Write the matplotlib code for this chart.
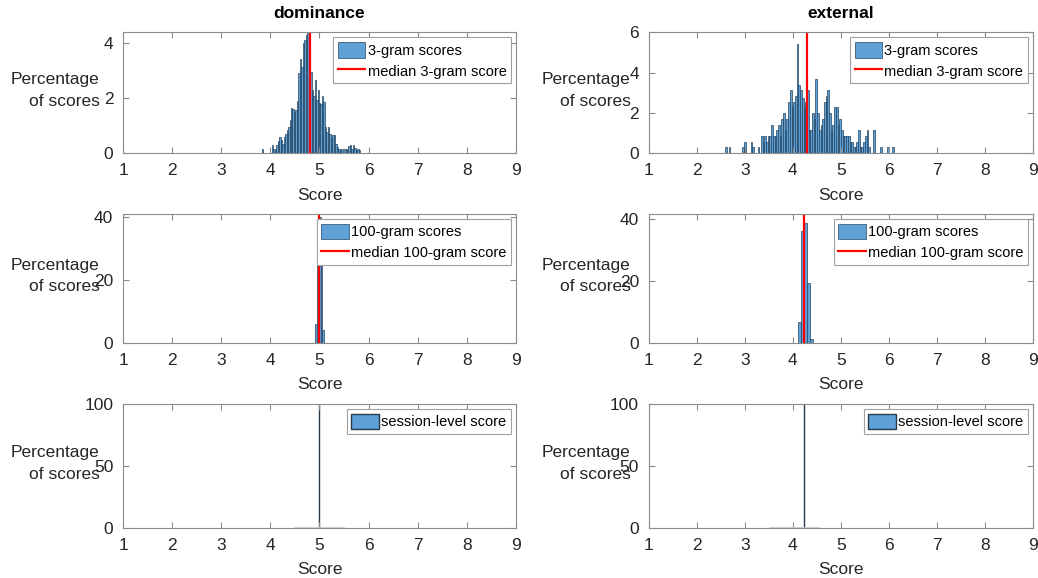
import numpy as np
import matplotlib
matplotlib.use('Agg')
import matplotlib.pyplot as plt

plt.rcParams['font.family'] = ['Liberation Sans', 'DejaVu Sans']
plt.rcParams['font.size'] = 12

# ---- data (percent of scores per bin) ----
# dominance, 3-gram
dom3_left = 3.82
dom3_width = 0.03
dom3_heights = [0.15, 0, 0, 0, 0, 0, 0, 0.3, 0.15, 0.1, 0.3, 0.44, 0.6, 0.47,
                0.35, 0.6, 0.7, 0.86, 0.96, 1.2, 1.66, 1.6, 1.5, 1.56, 1.9,
                2.92, 3.44, 3.14, 4.0, 4.13, 4.29, 4.4, 3.62, 2.96, 2.3, 2.1,
                2.65, 1.93, 2.3, 1.83, 1.78, 2.1, 1.87, 0.96, 0.78, 0.96, 0.7,
                0.57, 0.65, 0.65, 0.35, 0.23, 0.17, 0.1, 0.17, 0, 0.15, 0.15,
                0.1, 0.25, 0.3, 0.15, 0.3, 0.2, 0.1, 0.15, 0.1]
dom3_median = 4.80

# external, 3-gram
ext3_left = 2.591
ext3_width = 0.0355
ext3_heights = [0.3, 0, 0.3, 0, 0, 0, 0, 0, 0, 0, 0.3, 0.57, 0, 0, 0, 0.57,
                0.3, 0, 0, 0.3, 0,
                0.86, 0.57, 0.86, 0.57, 0.86, 0.86, 1.41, 0.86, 0.86, 1.14,
                1.41, 0.86, 1.7, 2.0, 1.14, 1.7, 2.55, 3.12, 2.28, 2.55, 2.85,
                5.41, 3.41, 3.12, 2.76, 2.28, 2.55, 3.12, 1.14, 1.14, 2.0, 1.7,
                3.69, 2.0, 1.14, 1.41, 1.7, 2.55, 2.85, 3.12, 2.0, 1.14, 1.41,
                2.28, 2.28, 1.41, 1.7, 1.14, 0.86, 0.86, 0.86, 0.86, 0.57,
                0.57, 0.3, 0.3, 0.57, 1.14, 0.3, 0.3, 0.57, 0.86, 1.14, 0.3,
                0, 0, 1.14, 0, 0, 0, 0.3, 0, 0, 0, 0.3, 0, 0, 0.3]
ext3_median = 4.29

# 100-gram
dom100_left = 4.915
dom100_width = 0.0355
dom100_heights = [6, 25, 40, 25, 4]
dom100_median = 4.99

ext100_left = 4.10
ext100_width = 0.0625
ext100_heights = [6.7, 36, 38.7, 19.5, 1.3]
ext100_median = 4.23

# session level
dom_session = 4.99
dom_session_range = [4.5, 5.5]
ext_session = 4.235
ext_session_range = [3.535, 4.55]

titles = ['dominance', 'external']
ngrams = [3, 100]

FACE = '#5fa0d6'
EDGE = '#24445f'
AXC = '#8c8c8c'
TXT = '#262626'

fig = plt.figure(figsize=(10.38, 5.78), dpi=100)

cols = [(0.1185, 0.3786), (0.625, 0.370)]
rows = [(0.735, 0.209), (0.4066, 0.223), (0.0865, 0.2145)]
ylims = [[4.4, 6], [41, 41.6], [100, 100]]
yticks = [[[0, 2, 4], [0, 2, 4, 6]], [[0, 20, 40], [0, 20, 40]],
          [[0, 50, 100], [0, 50, 100]]]
ylab_x = [-0.06, -0.047]

hist_data = [
    [(dom3_left, dom3_width, dom3_heights, dom3_median),
     (ext3_left, ext3_width, ext3_heights, ext3_median)],
    [(dom100_left, dom100_width, dom100_heights, dom100_median),
     (ext100_left, ext100_width, ext100_heights, ext100_median)],
]
sessions = [(dom_session, dom_session_range), (ext_session, ext_session_range)]

for r in range(3):
    for c in range(2):
        ax = fig.add_axes([cols[c][0], rows[r][0], cols[c][1], rows[r][1]])
        if r < 2:
            left, w, h, med = hist_data[r][c]
            centers = left + w * (np.arange(len(h)) + 0.5)
            bars = ax.bar(centers, h, width=w, color=FACE, edgecolor=EDGE,
                          linewidth=0.5, label='%d-gram scores' % ngrams[r])
            line = ax.axvline(med, color='#ff0000', lw=1.6,
                              label='median %d-gram score' % ngrams[r])
            handles = [bars, line]
        else:
            val, rng = sessions[c]
            ax.plot(rng, [0, 0], color='#c8c8c8', lw=1.2)
            bars = ax.bar([val], [100], width=0.004, color=FACE,
                          edgecolor='#2a3a48', linewidth=1.0,
                          label='session-level score')
            handles = [bars]
        ax.set_xlim(1, 9)
        ax.set_ylim(0, ylims[r][c])
        ax.set_xticks(range(1, 10))
        ax.set_yticks(yticks[r][c])
        ax.tick_params(direction='in', top=True, right=True, length=4,
                       color=AXC, labelcolor=TXT, labelsize=12.5, pad=7)
        for s in ax.spines.values():
            s.set_color(AXC)
            s.set_linewidth(0.8)
        ax.set_xlabel('Score', color=TXT, fontsize=12.5, labelpad=7)
        ax.set_ylabel('Percentage\nof scores', rotation=0, ha='right',
                      va='center', multialignment='right', color=TXT,
                      fontsize=12.5, linespacing=1.55)
        ax.yaxis.set_label_coords(ylab_x[c], 0.52)
        leg = ax.legend(handles=handles, loc='upper right', fontsize=10.5,
                        frameon=True, fancybox=False, edgecolor='#a0a0a0',
                        framealpha=1, handlelength=1.9, handleheight=1.3,
                        borderpad=0.3, labelspacing=0.35, handletextpad=0.15,
                        borderaxespad=0.35)
        leg.get_frame().set_linewidth(0.8)
        if r == 0:
            ax.set_title(titles[c], fontweight='bold', fontsize=12.5,
                         color='black', pad=10)

fig.savefig('out.png', dpi=100)
